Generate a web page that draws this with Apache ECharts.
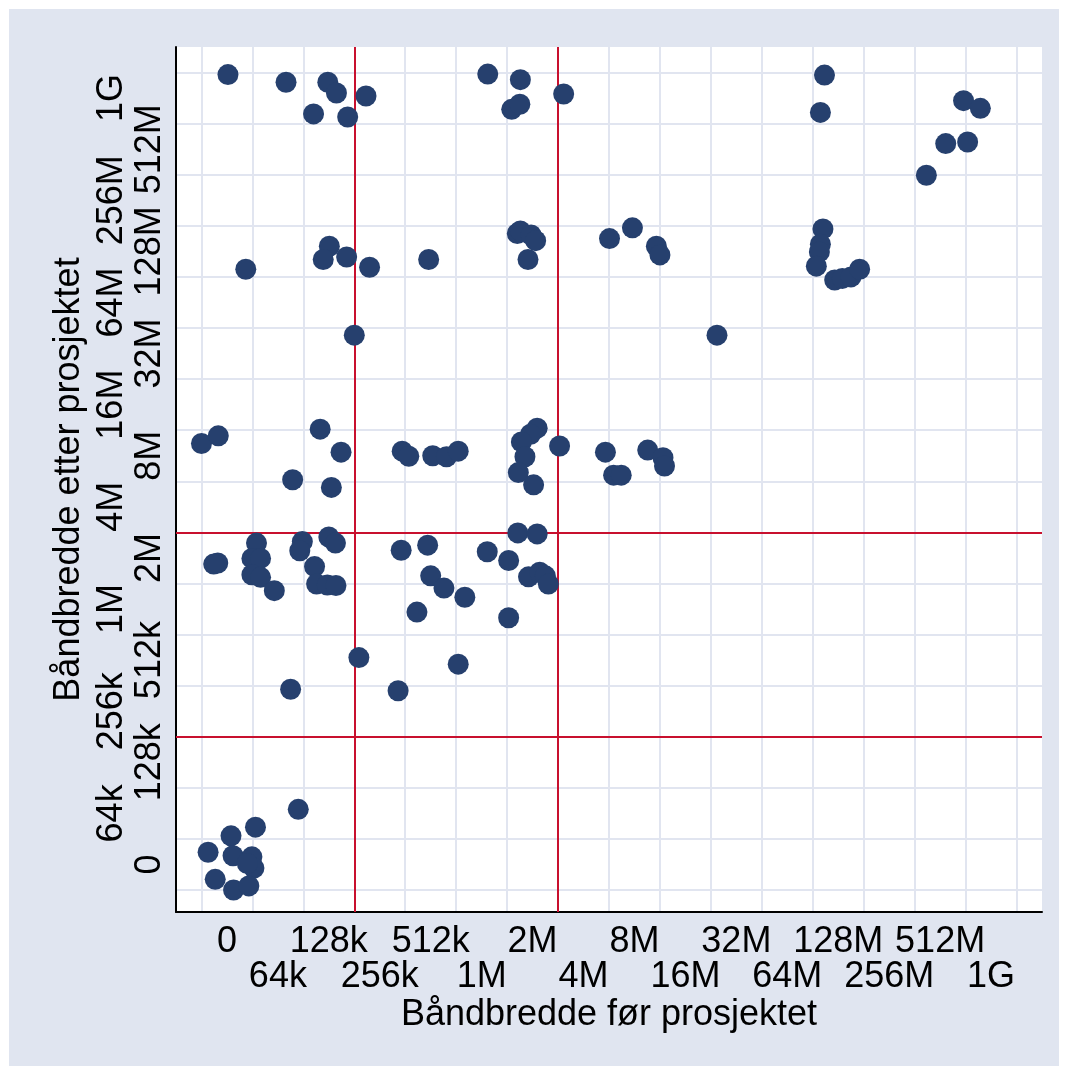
<!DOCTYPE html>
<html>
<head>
<meta charset="utf-8">
<script src="https://cdn.jsdelivr.net/npm/echarts@6/dist/echarts.min.js"></script>
<style>
  html, body { margin: 0; padding: 0; background: #ffffff; }
  #chart { width: 1068px; height: 1075px; }
</style>
</head>
<body>
<div id="chart"></div>
<script>
// Bandwidth levels, one per step on the log2 scale (position 0..15)
const tickLabels = ['0', '64k', '128k', '256k', '512k', '1M', '2M', '4M',
                    '8M', '16M', '32M', '64M', '128M', '256M', '512M', '1G'];

// Bandwidth before the project, in steps of the scale above (jittered)
const before = [
  0.02, 1.16, 1.98, 2.15, 2.73, 1.70, 2.37, 5.12, 5.76, 6.61, 5.59, 5.75,
  11.73, 11.65, 14.46, 14.79, 14.11, 14.54, 13.73,
  0.37, 2.01, 1.89, 2.35, 2.80, 3.96, 5.70, 5.76, 5.97, 6.06, 5.91,
  7.51, 7.96, 8.43, 8.50, 11.70, 11.65, 11.63, 11.57, 11.93, 12.08, 12.25, 12.42,
  2.50, 9.62,
  -0.50, -0.17, 1.83, 2.24, 1.29, 2.05, 3.44, 3.57, 4.04, 4.31, 4.54,
  6.09, 5.96, 5.78, 5.85, 5.72, 6.02, 6.53, 7.43, 7.59, 7.74, 8.26, 8.56, 8.59,
  5.71, 6.09, -0.18, -0.26, 0.58, 0.49, 0.66, 0.49, 0.66, 0.93,
  1.48, 1.43, 2.00, 2.13, 1.72, 1.76, 1.97, 2.14,
  3.42, 3.94, 4.00, 4.26, 4.67, 3.73, 5.11, 5.53, 5.92, 6.14, 6.25, 6.31, 5.53,
  2.59, 4.54, 1.25, 3.36,
  1.40, 0.56, 0.08, -0.37, 0.12, 0.49, 0.53, 0.40, -0.23, 0.13, 0.43
];

// Bandwidth after the project, same scale (jittered)
const after = [
  15.46, 15.31, 15.31, 15.10, 15.04, 14.69, 14.63, 15.47, 15.36, 15.08, 14.78, 14.88,
  15.45, 14.72, 14.95, 14.80, 14.11, 14.14, 13.49,
  11.65, 12.10, 11.84, 11.89, 11.69, 11.84, 12.35, 12.40, 12.32, 12.21, 11.84,
  12.25, 12.46, 12.10, 11.93, 12.44, 12.14, 11.99, 11.71, 11.44, 11.47, 11.50, 11.65,
  10.36, 10.36,
  8.24, 8.39, 8.52, 8.07, 7.53, 7.38, 8.09, 7.99, 8.00, 7.98, 8.09,
  8.54, 8.42, 8.27, 7.98, 7.67, 7.43, 8.19, 8.07, 7.62, 7.62, 8.11, 7.96, 7.80,
  6.49, 6.47, 5.90, 5.88, 6.29, 5.99, 5.99, 5.67, 5.62, 5.36,
  6.32, 6.14, 6.41, 6.29, 5.83, 5.49, 5.47, 5.46,
  6.15, 6.25, 5.65, 5.41, 5.23, 4.94, 6.12, 5.95, 5.63, 5.72, 5.65, 5.49, 4.83,
  4.05, 3.92, 3.43, 3.40,
  1.08, 0.73, 0.56, 0.24, 0.17, 0.15, -0.07, 0.02, -0.29, -0.50, -0.42
];

// Threshold lines (between 128k/256k and between 2M/4M)
const thresholds = [2.5, 6.5];

const FONT = 'Liberation Sans, Arial, Helvetica, sans-serif';
const NAVY = '#26406e';
const GRIDLINE = '#e1e5f0';
const CRIMSON = '#c8102e';

const levelIdx = tickLabels.map((_, i) => i);
const evenIdx = levelIdx.filter(i => i % 2 === 0);
const oddIdx = levelIdx.filter(i => i % 2 === 1);
const cellEdges = levelIdx.map(i => i - 0.5).concat([tickLabels.length - 0.5]);

const labelText = v => {
  const k = Math.round(v);
  return (k >= 0 && k < tickLabels.length) ? tickLabels[k] : '';
};

// Each axis is drawn twice: the inner copy carries the even levels,
// the outer (offset) copy the odd ones, so the long labels alternate rows.
function axisPair(range, side, primaryExtra, secondaryExtra) {
  const base = {
    type: 'value',
    position: side,
    min: range[0],
    max: range[1],
    axisTick: { show: false, customValues: cellEdges },
    axisLabel: {
      fontFamily: FONT,
      fontSize: 36,
      color: '#000',
      formatter: labelText
    }
  };
  const primary = Object.assign({}, base, {
    axisLine: { show: true, onZero: false, lineStyle: { color: '#000', width: 2 } },
    splitLine: { show: true, lineStyle: { color: GRIDLINE, width: 2 } },
    nameTextStyle: { fontFamily: FONT, fontSize: 36, color: '#000' },
    nameLocation: 'middle'
  }, primaryExtra);
  primary.axisLabel = Object.assign({}, base.axisLabel, { customValues: evenIdx }, primaryExtra.axisLabel || {});
  const secondary = Object.assign({}, base, {
    axisLine: { show: false, onZero: false },
    splitLine: { show: false }
  }, secondaryExtra);
  secondary.axisLabel = Object.assign({}, base.axisLabel, { customValues: oddIdx }, secondaryExtra.axisLabel || {});
  return [primary, secondary];
}

const xAxes = axisPair([-1, 16], 'bottom',
  { name: 'Båndbredde før prosjektet', nameGap: 85, axisLabel: { margin: 12 } },
  { offset: 35, axisLabel: { margin: 12 } });

const yAxes = axisPair([-0.93, 16], 'left',
  { name: 'Båndbredde etter prosjektet', nameGap: 89, axisLabel: { margin: 8, rotate: 90 } },
  { offset: 38, axisLabel: { margin: 8, rotate: 90 } });

const chart = echarts.init(document.getElementById('chart'), null, { renderer: 'canvas' });

chart.setOption({
  animation: false,
  backgroundColor: '#ffffff',
  graphic: [{
    type: 'rect',
    z: -10,
    silent: true,
    shape: { x: 9, y: 9, width: 1050, height: 1057 },
    style: { fill: '#e0e5f0' }
  }],
  grid: {
    left: 176, right: 26, top: 47, bottom: 163,
    outerBoundsMode: 'none',
    containLabel: false,
    show: true, backgroundColor: '#ffffff', borderWidth: 0
  },
  xAxis: xAxes,
  yAxis: yAxes,
  series: [{
    type: 'scatter',
    xAxisIndex: 0,
    yAxisIndex: 0,
    z: 10,
    symbol: 'circle',
    symbolSize: 21,
    itemStyle: { color: NAVY, opacity: 1 },
    data: before.map((b, i) => [b, after[i]]),
    markLine: {
      silent: true,
      symbol: ['none', 'none'],
      label: { show: false },
      lineStyle: { color: CRIMSON, width: 2, type: 'solid' },
      data: thresholds.map(v => ({ xAxis: v }))
        .concat(thresholds.map(v => ({ yAxis: v })))
    }
  }]
});
</script>
</body>
</html>
